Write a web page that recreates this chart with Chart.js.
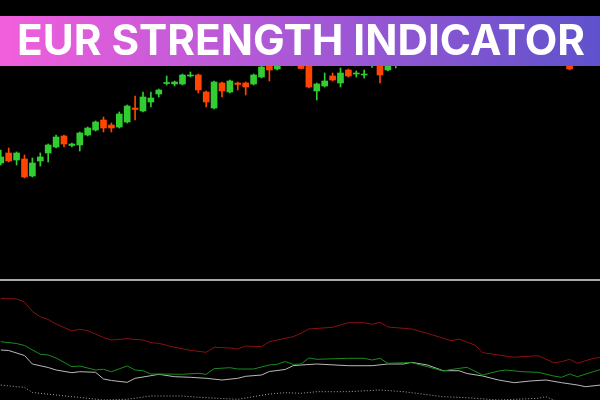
<!DOCTYPE html>
<html><head><meta charset="utf-8">
<script src="https://cdn.jsdelivr.net/npm/chart.js@4"></script>
<style>
html,body{margin:0;padding:0;background:#000;}
#wrap{position:relative;width:600px;height:400px;overflow:hidden;background:#000;}
#c{position:absolute;left:0;top:0;}
#banner{position:absolute;left:0;top:16px;width:600px;height:50px;background:linear-gradient(90deg,#f25fdc 0%,#a858d6 50%,#5e52cc 100%);}
#title{position:absolute;left:17px;top:19px;font-family:Inter,'Open Sans',sans-serif;font-weight:700;font-size:42px;line-height:42px;color:#fff;white-space:nowrap;transform-origin:0 0;}
</style></head><body>
<div id="wrap"><canvas id="c" width="600" height="400"></canvas><div id="banner"></div><div id="title">EUR STRENGTH INDICATOR</div></div>
<script>
// ---- candles (bar index, OHLC prices) ----
const barIdx = [0,1,2,3,4,5,6,7,8,9,10,11,12,13,14,15,16,17,18,19,20,21,22,23,24,25,26,27,28,29,30,31,32,33,34,35,38,39,40,41,42,43,44,45,46,47,48,49,50,72];
const opens  = [1.0837,1.0847,1.0840,1.0841,1.0824,1.0839,1.0847,1.0853,1.0864,1.08545,1.0855,1.0865,1.0870,1.0880,1.0875,1.0873,1.0878,1.0892,1.0889,1.0898,1.0906,1.09165,1.0916,1.0916,1.0924,1.0925,1.0908,1.0892,1.0917,1.0908,1.0917,1.0917,1.0916,1.0923,1.0942,1.0931,1.0940,1.0938,1.0909,1.0914,1.0924,1.0917,1.0930,1.0926,1.0925,1.0940,1.0938,1.0930,1.0938,1.0940];
const highs  = [1.0850,1.0852,1.0848,1.0845,1.0842,1.0847,1.0856,1.0865,1.0865,1.0857,1.0868,1.0873,1.0879,1.0883,1.0877,1.0888,1.0895,1.0904,1.0908,1.0908,1.0911,1.0924,1.0919,1.0926,1.0928,1.0926,1.0909,1.0919,1.0918,1.0920,1.0918,1.0918,1.0926,1.0936,1.0948,1.0945,1.0945,1.0940,1.0917,1.0927,1.0927,1.0932,1.0931,1.0929,1.0930,1.0955,1.0945,1.0945,1.0950,1.0945];
const lows   = [1.0835,1.0838,1.0835,1.0822,1.0823,1.0834,1.0838,1.0852,1.0853,1.0853,1.0849,1.0864,1.0869,1.0868,1.0868,1.0872,1.0877,1.0880,1.0888,1.0893,1.0903,1.0915,1.0914,1.0915,1.0923,1.0907,1.0893,1.0891,1.0903,1.0907,1.0910,1.0905,1.0915,1.0922,1.0919,1.0930,1.0931,1.0912,1.0900,1.0913,1.0919,1.0913,1.0923,1.0923,1.0922,1.09325,1.0917,1.0929,1.0932,1.0930];
const closes = [1.0843,1.0839,1.0847,1.0823,1.0837,1.0843,1.0855,1.0863,1.0856,1.0856,1.0867,1.0872,1.0878,1.0872,1.0872,1.0886,1.0894,1.08905,1.0903,1.0902,1.0910,1.09175,1.0918,1.0925,1.0925,1.0910,1.0898,1.0918,1.0909,1.0919,1.09155,1.0913,1.0925,1.0933,1.0930,1.0940,1.09315,1.0913,1.0916,1.0919,1.0920,1.0927,1.0924,1.0927,1.0926,1.0950,1.0925,1.0938,1.0945,1.0931];

// ---- strength indicator lines (bar index, value) ----
const chfIdx = [0,2,3,4,5,6,7,9,10,11,13,14,16,18,19,20,22,24,26,27,29,30,31,33,34,35,37,38,39,42,44,46,47,48,49,52,54,57,58,60,61,63,65,68,70,71,72,73,75,76];
const chfVal = [10.17,10.1,9.8,8.85,8.33,8.05,7.6,6.9,7.07,6.93,6.25,6.0,6.13,6.0,5.73,5.67,5.27,4.97,4.77,5.27,5.2,5.1,5.4,5.33,5.83,6.0,6.33,6.67,7.1,7.27,7.73,7.73,7.57,7.77,7.3,7.1,6.67,5.93,6.1,5.5,4.73,4.5,4.27,4.43,3.73,3.83,4.07,3.67,4.17,4.27];
const grnIdx = [0,2,3,5,6,7,9,10,12,13,14,16,17,18,19,21,23,25,26,27,29,30,32,34,35,36,37,38,39,40,44,46,47,48,49,51,52,54,56,57,59,61,63,64,66,68,70,71,72,73,75,76];
const grnVal = [5.83,5.65,5.45,4.57,4.5,4.2,3.33,3.4,3.0,3.07,2.83,3.4,3.0,2.93,2.6,2.6,2.57,2.67,2.57,3.13,3.23,3.1,3.1,3.5,3.57,3.85,3.57,3.6,4.2,4.07,4.17,4.17,4.0,4.17,3.67,3.73,3.73,3.33,2.9,3.05,3.27,2.5,2.9,3.0,2.83,2.77,2.4,2.27,2.6,2.33,2.83,3.07];
const whtIdx = [0,1,3,4,6,7,9,10,12,13,14,16,17,19,20,22,24,26,28,30,31,33,34,36,37,38,40,44,47,49,51,52,54,56,58,59,61,63,65,67,69,71,73,74,76];
const whtVal = [5.0,4.95,4.45,3.6,3.25,3.0,2.73,2.83,2.77,2.1,1.95,1.77,2.17,2.43,2.57,2.33,2.27,2.17,2.0,2.17,2.37,2.5,2.85,3.05,3.43,3.5,3.6,3.43,3.43,3.6,3.6,3.77,3.5,2.93,2.93,2.65,2.4,2.0,1.73,1.9,2.0,1.73,1.5,1.33,1.5];
const dotIdx = [0,2,3,4,7,11,13,16,19,23,25,30,34,36,38,40,44,48,51,56,59,63,68,69,70,72];
const dotVal = [1.5,1.33,1.27,0.75,0.5,0.17,0.0,0.07,0.4,0.4,0.27,0.07,0.6,0.73,0.67,0.83,0.83,1.0,0.83,0.33,0.23,0.0,0.17,0.33,0.0,-0.5];
const panelBorderLevel = 12;

const BULL = '#32cd32', BEAR = '#ff4500';
const candleColors = barIdx.map((_, i) => closes[i] >= opens[i] ? BULL : BEAR);
const pts = (xs, ys) => xs.map((x, i) => ({x, y: ys[i]}));

const separator = {
  id: 'separator',
  afterDraw(chart) {
    const {ctx, chartArea, scales} = chart;
    const y = Math.round(scales.yl.getPixelForValue(panelBorderLevel));
    ctx.save();
    ctx.strokeStyle = '#aaaaaa';
    ctx.lineWidth = 2;
    ctx.beginPath();
    ctx.moveTo(chartArea.left, y);
    ctx.lineTo(chartArea.right, y);
    ctx.stroke();
    ctx.restore();
  }
};

new Chart(document.getElementById('c'), {
  type: 'bar',
  data: {
    datasets: [
      { label: 'body', data: barIdx.map((x, i) => ({x, y: [opens[i], closes[i]]})),
        backgroundColor: candleColors, barThickness: 6, grouped: false, borderWidth: 0, borderSkipped: false,
        xAxisID: 'x', yAxisID: 'y' },
      { label: 'wick', data: barIdx.map((x, i) => ({x, y: [lows[i], highs[i]]})),
        backgroundColor: candleColors, barThickness: 1, grouped: false, borderWidth: 0, borderSkipped: false,
        xAxisID: 'x', yAxisID: 'y' },
      { type: 'line', label: 'A', data: pts(chfIdx, chfVal), borderColor: '#8a1010', borderWidth: 1, pointRadius: 0, tension: 0, xAxisID: 'x', yAxisID: 'yl' },
      { type: 'line', label: 'B', data: pts(grnIdx, grnVal), borderColor: '#1c8a1c', borderWidth: 1, pointRadius: 0, tension: 0, xAxisID: 'x', yAxisID: 'yl' },
      { type: 'line', label: 'C', data: pts(whtIdx, whtVal), borderColor: '#b8b8b8', borderWidth: 1, pointRadius: 0, tension: 0, xAxisID: 'x', yAxisID: 'yl' },
      { type: 'line', label: 'D', data: pts(dotIdx, dotVal), borderColor: '#a8a8a8', borderWidth: 1, borderDash: [1, 2], pointRadius: 0, tension: 0, xAxisID: 'x', yAxisID: 'yl' }
    ]
  },
  options: {
    responsive: false,
    animation: false,
    devicePixelRatio: 1,
    layout: { padding: 0 },
    plugins: { legend: { display: false }, tooltip: { enabled: false }, title: { display: false } },
    scales: {
      x: { type: 'linear', min: -0.1, max: 75.85, offset: false, display: false },
      y: { type: 'linear', min: 1.06, max: 1.10, display: false },
      yl: { type: 'linear', min: 0, max: 40, display: false }
    }
  },
  plugins: [separator]
});

// fit title across banner width
const t = document.getElementById('title');
const w = t.getBoundingClientRect().width;
t.style.transform = 'scaleX(' + (568 / w) + ')';
</script>
</body></html>
